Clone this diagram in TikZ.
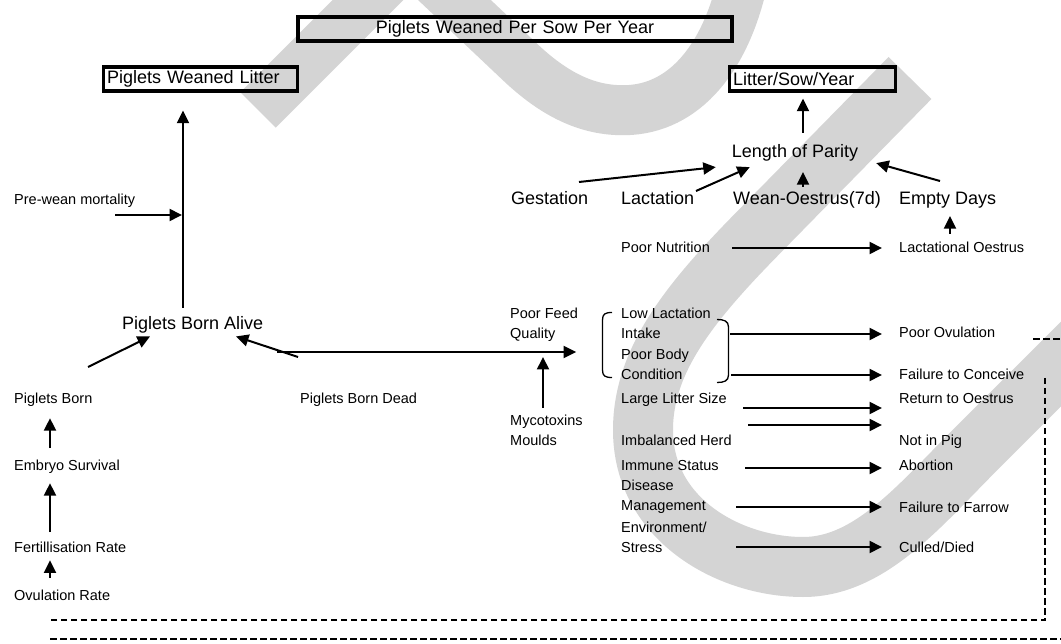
\documentclass[tikz,border=0pt]{standalone}
\usepackage{fontspec}
\setmainfont{Liberation Sans}
\usetikzlibrary{arrows.meta,calc}
\definecolor{wmgray}{RGB}{212,212,212}
\begin{document}
\begin{tikzpicture}[x=1pt,y=-1pt,
  sm/.style={font=\fontsize{14.5}{20}\selectfont, inner sep=0pt, anchor=base west},
  smml/.style={font=\fontsize{14.5}{20}\selectfont, inner sep=0pt, anchor=north west, align=left},
  md/.style={font=\fontsize{18}{22}\selectfont, inner sep=0pt, anchor=base west},
  box/.style={draw, line width=3.8pt, font=\fontsize{18}{22}\selectfont,
    inner xsep=3.5pt, inner ysep=0pt, minimum height=24.5pt, align=left},
  arr/.style={line width=2pt, -{Triangle[length=12.5pt,width=12pt]}},
  dsh/.style={line width=2pt, dash pattern=on 6.5pt off 3.5pt},
  brk/.style={line width=1.3pt},
  wmband/.style={draw=wmgray, line cap=butt, line join=miter}
]
\useasboundingbox (0,0) rectangle (1061,644);
\fill[white] (0,0) rectangle (1061,644);

% background sweep shapes
\begin{scope}
  \clip (0,0) rectangle (1061,644);
  \draw[wmband, line width=50pt] (258,110) -- (410,-42) -- (520,62)
    .. controls (560,100) and (595,112) .. (630,110)
    .. controls (690,106) and (730,50) .. (745,-30);
  \draw[wmband, line width=60pt] (910,78) -- (760,231)
    .. controls (690,302) and (643,360) .. (643,430)
    .. controls (643,520) and (730,567) .. (803,567)
    .. controls (870,567) and (920,505) .. (975,450) -- (1130,295);
\end{scope}

% boxed totals
\node[box, text width=427pt, align=center] (title) at (515,29) {Piglets Weaned Per Sow Per Year};
\node[box, text width=187pt] (wlitter) at (200.5,79) {Piglets Weaned Litter};
\node[box, text width=159pt] (lsy) at (812.5,79) {Litter/Sow/Year};

% litter size branch
\node[md] (alive) at (122,329.5) {Piglets Born Alive};
\node[sm] (prewean) at (14,205) {Pre-wean mortality};
\node[sm] (born) at (14,404) {Piglets Born};
\node[sm] (borndead) at (300,404) {Piglets Born Dead};
\node[sm] (embryo) at (14,470) {Embryo Survival};
\node[sm] (fert) at (14,552) {Fertillisation Rate};
\node[sm] (ovul) at (14,600) {Ovulation Rate};

% parity branch
\node[md, anchor=base] (parity) at (795,157.5) {Length of Parity};
\node[md] (gest) at (511,205) {Gestation};
\node[md] (lact) at (621,205) {Lactation};
\node[md] (wean) at (733,205) {Wean-Oestrus(7d)};
\node[md] (empty) at (899,205) {Empty Days};

% causes
\node[smml] (feed) at (510,307.6) {Poor Feed\\Quality};
\node[smml] (myco) at (510,414.6) {Mycotoxins\\Moulds};
\node[sm] (poornut) at (621,253) {Poor Nutrition};
\node[smml] (lowlact) at (621,307.6) {Low Lactation\\Intake};
\node[smml] (poorbody) at (621,348.6) {Poor Body\\Condition};
\node[sm] (largelit) at (621,404) {Large Litter Size};
\node[sm] (imbal) at (621,446) {Imbalanced Herd};
\node[sm] (immune) at (621,470) {Immune Status};
\node[smml] (disease) at (621,479.6) {Disease\\Management};
\node[smml] (env) at (621,521.6) {Environment/\\Stress};

% outcomes
\node[sm] (lacoest) at (899,253) {Lactational Oestrus};
\node[sm] (poorov) at (899,338) {Poor Ovulation};
\node[sm] (failcon) at (899,380) {Failure to Conceive};
\node[sm] (retoest) at (899,403) {Return to Oestrus};
\node[sm] (notpig) at (899,446) {Not in Pig};
\node[sm] (abort) at (899,470) {Abortion};
\node[sm] (failfar) at (899,512) {Failure to Farrow};
\node[sm] (culled) at (899,552) {Culled/Died};

% brackets round the intake / condition group
\draw[brk] (612,312.5) .. controls (605,312.5) and (602.5,314) .. (602.5,320)
  -- (602.5,370) .. controls (602.5,376) and (605,377.5) .. (612,377.5);
\draw[brk] (717,319.5) .. controls (724,319.5) and (728.5,321) .. (728.5,327)
  -- (728.5,375) .. controls (728.5,381) and (724,382.5) .. (717,382.5);

% arrow tails
\coordinate (t1) at (183,308);
\coordinate (t2) at (115,215);
\coordinate (t3) at (88,367);
\coordinate (t4) at (298,357);
\coordinate (t5) at (277,352);
\coordinate (t6) at (50,448);
\coordinate (t7) at (50,532);
\coordinate (t8) at (50,578);
\coordinate (t9) at (543,408);
\coordinate (t10) at (579,182);
\coordinate (t11) at (696,191);
\coordinate (t12) at (803,187);
\coordinate (t13) at (940,181);
\coordinate (t14) at (803,133);
\coordinate (t15) at (950,234);
\coordinate (t16) at (732,248);
\coordinate (t17) at (730,334);
\coordinate (t18) at (731,375);
\coordinate (t19) at (743,408);
\coordinate (t20) at (748,425);
\coordinate (t21) at (745,468);
\coordinate (t22) at (736,507);
\coordinate (t23) at (736,547);

% litter side connectors
\draw[arr, shorten >=17.5pt] (t1) -- (t1 |- wlitter.south);
\draw[arr, shorten >=1pt] (t2) -- (t2 -| t1);
\draw[arr] (t3) -- ($(alive.south west)+(28,3)$);
\draw[arr] (t4) -- ($(alive.south west)+(114,3)$);
\draw[arr, shorten >=2pt] (t5) -- (t5 -| feed.east);
\draw[arr, shorten >=11pt] (t6) -- (t6 |- born.south);
\draw[arr, shorten >=10pt] (t7) -- (t7 |- embryo.south);
\draw[arr, shorten >=8pt] (t8) -- (t8 |- fert.south);
\draw[arr, shorten >=5pt] (t9) -- (t9 |- t5);

% parity side connectors
\draw[arr] (t10) -- ($(parity.south west)+(-16,5.7)$);
\draw[arr] (t11) -- ($(parity.south west)+(18,5.7)$);
\draw[arr, shorten >=10.7pt] (t12) -- (t12 |- parity.south);
\draw[arr] (t13) -- ($(parity.south east)+(18,1.7)$);
\draw[arr, shorten >=5.5pt] (t14) -- (t14 |- lsy.south);
\draw[arr, shorten >=7.2pt] (t15) -- (t15 |- empty.south);

% cause to outcome connectors
\draw[arr, shorten >=17pt] (t16) -- (t16 -| lacoest.west);
\draw[arr, shorten >=17pt] (t17) -- (t17 -| poorov.west);
\draw[arr, shorten >=17pt] (t18) -- (t18 -| failcon.west);
\draw[arr, shorten >=17pt] (t19) -- (t19 -| retoest.west);
\draw[arr, shorten >=17pt] (t20) -- (t20 -| notpig.west);
\draw[arr, shorten >=17pt] (t21) -- (t21 -| abort.west);
\draw[arr, shorten >=17pt] (t22) -- (t22 -| failfar.west);
\draw[arr, shorten >=17pt] (t23) -- (t23 -| culled.west);

% dashed feedback lines
\coordinate (d1) at (1033,339);
\coordinate (d2) at (1061,339);
\coordinate (d3) at (1045,378);
\coordinate (d4) at (1045,620);
\coordinate (d5) at (50,620);
\coordinate (d6) at (50,639);
\coordinate (d7) at (1061,639);
\draw[dsh] (d1) -- (d2);
\draw[dsh] (d3) -- (d4) -- (d5);
\draw[dsh] (d6) -- (d7);
\end{tikzpicture}
\end{document}
